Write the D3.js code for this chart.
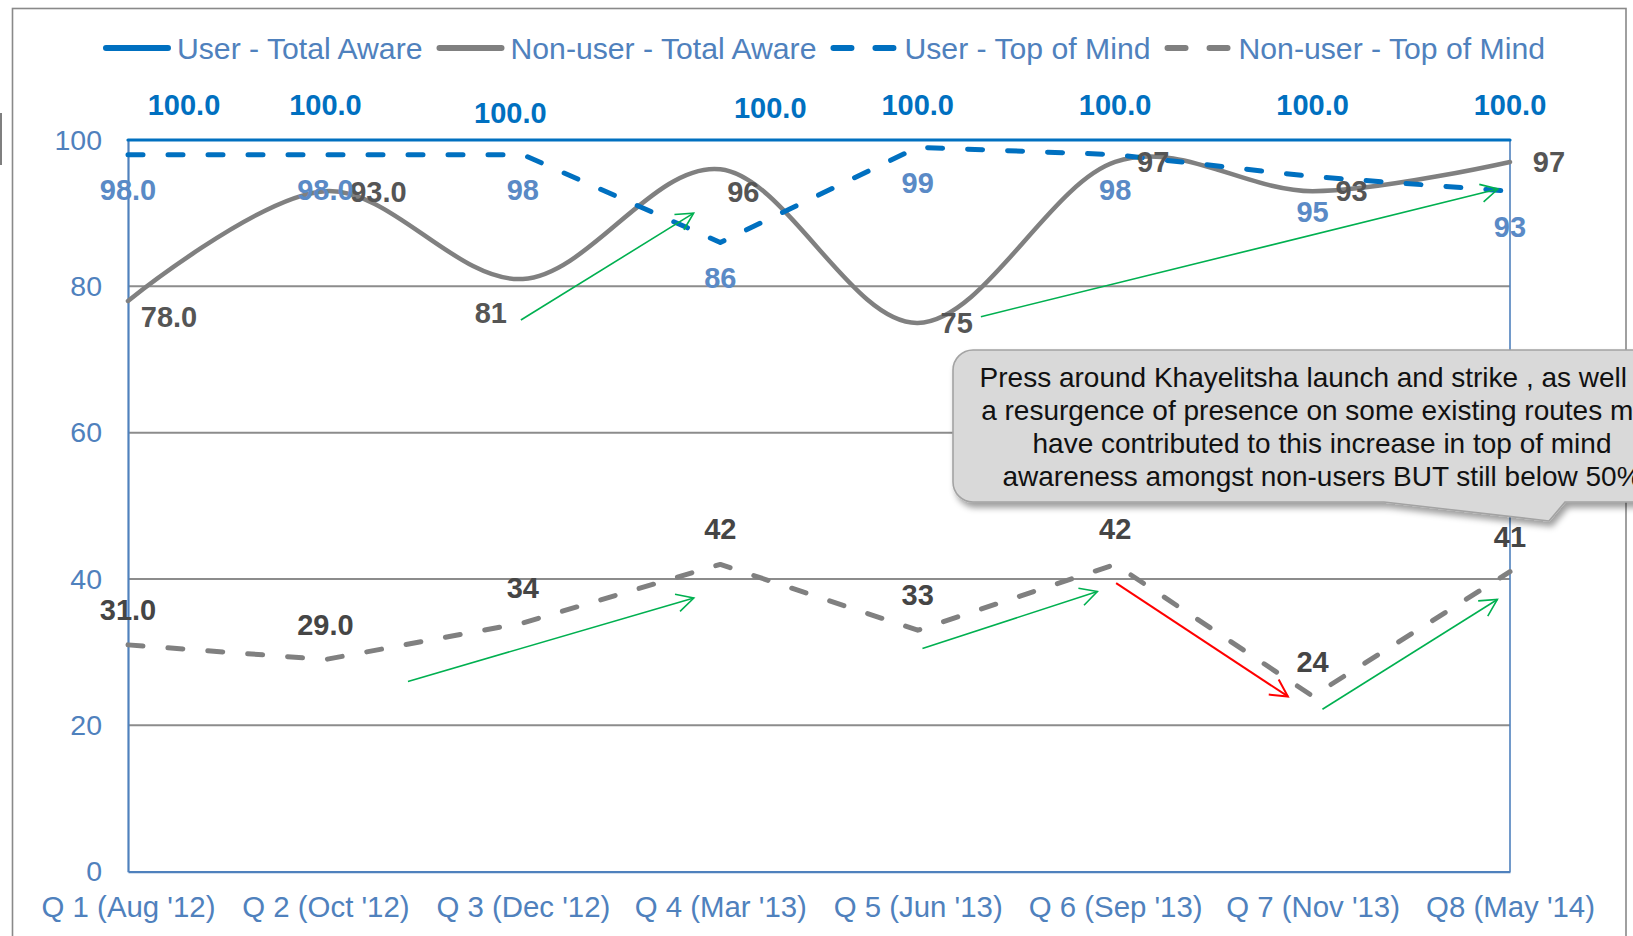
<!DOCTYPE html>
<html>
<head>
<meta charset="utf-8">
<script src="https://cdn.jsdelivr.net/npm/d3@7"></script>
<style>
  html, body { margin: 0; padding: 0; background: #ffffff; }
  svg { display: block; font-family: "Liberation Sans", Arial, Helvetica, sans-serif; }
</style>
</head>
<body>
<svg id="chart" width="1633" height="936"></svg>
<script>
// ---- data ----
const categories = ["Q 1 (Aug '12)", "Q 2 (Oct '12)", "Q 3 (Dec '12)", "Q 4 (Mar '13)",
                    "Q 5 (Jun '13)", "Q 6 (Sep '13)", "Q 7 (Nov '13)", "Q8 (May '14)"];
const userTotalAware    = [100, 100, 100, 100, 100, 100, 100, 100];
const nonUserTotalAware = [78, 93, 81, 96, 75, 97, 93, 97];
const userTopOfMind     = [98, 98, 98, 86, 99, 98, 95, 93];
const nonUserTopOfMind  = [31, 29, 34, 42, 33, 42, 24, 41];
const yTicks = [0, 20, 40, 60, 80, 100];
const seriesNames = ["User - Total Aware", "Non-user - Total Aware", "User - Top of Mind", "Non-user - Top of Mind"];
// decimals shown on each point's label
const decimalsUserTA  = [1, 1, 1, 1, 1, 1, 1, 1];
const decimalsOther   = [1, 1, 0, 0, 0, 0, 0, 0];
const noteLines = [
  "Press around Khayelitsha launch and strike , as well as",
  "a resurgence of presence on some existing routes may",
  "have contributed to this increase in top of mind",
  "awareness amongst non-users BUT still below 50%"
];
// trend arrows, in chart units: [quarter index, percent]
const trendArrows = [
  { from: [1.99, 75.4], to: [2.865, 90.0], kind: "up" },
  { from: [4.32, 75.85], to: [6.939, 93.3], kind: "up" },
  { from: [1.418, 26.0], to: [2.866, 37.4], kind: "up" },
  { from: [4.024, 30.5], to: [4.91, 38.3], kind: "up" },
  { from: [5.005, 39.45], to: [5.875, 23.95], kind: "down" },
  { from: [6.05, 22.2], to: [6.936, 37.2], kind: "up" }
];

// ---- layout ----
const plot = { left: 128, right: 1510, top: 140, bottom: 871.7 };
const svg = d3.select("#chart");

const x = d3.scaleLinear().domain([0, categories.length - 1]).range([plot.left, plot.right]);
const y = d3.scaleLinear().domain([0, 100]).range([plot.bottom, plot.top]);

const BLUE = "#0070c0", AXIS_BLUE = "#4f81bd", GRAY = "#808080";

const defs = svg.append("defs");
const shadow = defs.append("filter").attr("id", "noteShadow")
  .attr("x", "-10%").attr("y", "-20%").attr("width", "130%").attr("height", "150%");
shadow.append("feDropShadow").attr("dx", 3).attr("dy", 5).attr("stdDeviation", 3)
  .attr("flood-color", "#000").attr("flood-opacity", 0.38);

[["up", "#00b050"], ["down", "#ff0000"]].forEach(([k, c]) => {
  defs.append("marker").attr("id", "head-" + k)
    .attr("viewBox", "-22 -12 26 24").attr("markerUnits", "userSpaceOnUse")
    .attr("markerWidth", 26).attr("markerHeight", 24)
    .attr("refX", 0).attr("refY", 0).attr("orient", "auto")
    .append("path").attr("d", "M-17,-9 L0,0 L-17,9")
    .attr("fill", "none").attr("stroke", c).attr("stroke-width", k === "down" ? 2 : 1.6);
});

// outer chart frame
svg.append("rect").attr("x", 12.5).attr("y", 8.5).attr("width", 1613.5).attr("height", 1000)
  .attr("fill", "none").attr("stroke", "#898989").attr("stroke-width", 1.6);
svg.append("line").attr("x1", 1).attr("x2", 1).attr("y1", 113).attr("y2", 165)
  .attr("stroke", "#7f7f7f").attr("stroke-width", 2);

// gridlines
svg.append("g").selectAll("line").data(yTicks.filter(t => t > 0 && t < 100)).join("line")
  .attr("x1", plot.left).attr("x2", plot.right)
  .attr("y1", d => y(d)).attr("y2", d => y(d))
  .attr("stroke", "#8c8c8c").attr("stroke-width", 2);

// axes
const yAxis = svg.append("g").attr("transform", `translate(${plot.left},0)`)
  .call(d3.axisLeft(y).tickValues(yTicks).tickSize(0).tickSizeOuter(0).tickPadding(26));
const xAxis = svg.append("g").attr("transform", `translate(0,${plot.bottom})`)
  .call(d3.axisBottom(x).tickValues(d3.range(categories.length))
    .tickFormat(i => categories[i]).tickSize(0).tickSizeOuter(0).tickPadding(24));
[[yAxis, 28.5], [xAxis, 29.4]].forEach(([g, fs]) => {
  g.select(".domain").attr("stroke", AXIS_BLUE).attr("stroke-width", 2.2);
  g.selectAll("text").attr("fill", AXIS_BLUE).attr("font-size", fs)
    .attr("font-family", "'Liberation Sans', Arial, sans-serif");
});
svg.append("line").attr("x1", plot.right).attr("x2", plot.right)
  .attr("y1", plot.top).attr("y2", plot.bottom)
  .attr("stroke", AXIS_BLUE).attr("stroke-width", 1.6);

// series
const idx = d3.range(categories.length);
const straight = d3.line().x(i => x(i)).curve(d3.curveLinear);
const smooth = d3.line().x(i => x(i)).curve(d3.curveCardinal.tension(0));

const series = [
  { vals: userTotalAware, gen: straight, color: BLUE, width: 3.2, dash: null },
  { vals: nonUserTotalAware, gen: smooth, color: GRAY, width: 4.5, dash: null },
  { vals: userTopOfMind, gen: straight, color: BLUE, width: 5, dash: "15,25" },
  { vals: nonUserTopOfMind, gen: straight, color: GRAY, width: 5, dash: "15,25" }
];
series.forEach(s => {
  svg.append("path")
    .attr("d", s.gen.y(i => y(s.vals[i]))(idx))
    .attr("fill", "none").attr("stroke", s.color).attr("stroke-width", s.width)
    .attr("stroke-linecap", "round").attr("stroke-linejoin", "round")
    .attr("stroke-dasharray", s.dash);
});

// trend arrows
svg.append("g").selectAll("line").data(trendArrows).join("line")
  .attr("x1", d => x(d.from[0])).attr("y1", d => y(d.from[1]))
  .attr("x2", d => x(d.to[0])).attr("y2", d => y(d.to[1]))
  .attr("stroke", d => d.kind === "up" ? "#00b050" : "#ff0000")
  .attr("stroke-width", d => d.kind === "up" ? 1.6 : 2)
  .attr("marker-end", d => `url(#head-${d.kind})`);

// data labels
const labelSets = [
  { vals: userTotalAware, dec: decimalsUserTA, color: BLUE,
    dx: [56, 0, -12.5, 50, 0, 0, 0, 0], dy: [-25, -25, -17, -22, -25, -25, -25, -25] },
  { vals: nonUserTotalAware, dec: decimalsOther, color: "#555555",
    dx: [41, 53, -32, 23, 39, 38, 39, 39], dy: [25.7, 10.5, 44, 33, 10, 10.5, 10, 10] },
  { vals: userTopOfMind, dec: decimalsOther, color: "#5a8ac6",
    dx: [0, 0, 0, 0, 0, 0, 0, 0], dy: [45.5, 45.5, 45.5, 46, 46, 45.5, 45, 45.5] },
  { vals: nonUserTopOfMind, dec: decimalsOther, color: "#454545",
    dx: [0, 0, 0, 0, 0, 0, 0, 0], dy: [-25, -25, -25, -25, -25, -25, -24.5, -25] }
];
labelSets.forEach(ls => {
  svg.append("g").selectAll("text").data(idx).join("text")
    .attr("x", i => x(i) + ls.dx[i]).attr("y", i => y(ls.vals[i]) + ls.dy[i])
    .attr("text-anchor", "middle").attr("font-size", 29).attr("font-weight", "bold")
    .attr("fill", ls.color)
    .text(i => ls.vals[i].toFixed(ls.dec[i]));
});

// callout note
const nb = { x0: 953, y0: 350, x1: 1691, y1: 502, r: 20 };
const tail = { baseR: 1565, tipX: 1549, tipY: 521, baseL: 1384 };
const notePath = `M${nb.x0 + nb.r},${nb.y0} H${nb.x1 - nb.r} A${nb.r},${nb.r} 0 0 1 ${nb.x1},${nb.y0 + nb.r}
  V${nb.y1 - nb.r} A${nb.r},${nb.r} 0 0 1 ${nb.x1 - nb.r},${nb.y1} H${tail.baseR} L${tail.tipX},${tail.tipY}
  L${tail.baseL},${nb.y1} H${nb.x0 + nb.r} A${nb.r},${nb.r} 0 0 1 ${nb.x0},${nb.y1 - nb.r}
  V${nb.y0 + nb.r} A${nb.r},${nb.r} 0 0 1 ${nb.x0 + nb.r},${nb.y0} Z`;
svg.append("path").attr("d", notePath).attr("fill", "#d9d9d9")
  .attr("stroke", "#a3a3a3").attr("stroke-width", 1.6).attr("filter", "url(#noteShadow)");
svg.append("g").selectAll("text").data(noteLines).join("text")
  .attr("x", (nb.x0 + nb.x1) / 2).attr("y", (d, i) => 387 + i * 33)
  .attr("text-anchor", "middle").attr("font-size", 28).attr("fill", "#111111")
  .text(d => d);

// legend
const legend = svg.append("g");
const legendStyles = [
  { color: BLUE, dash: null }, { color: GRAY, dash: null },
  { color: BLUE, dash: "18,24" }, { color: GRAY, dash: "18,24" }
];
const swatchW = 68, textGap = 74, itemGap = 14;
const items = seriesNames.map((name, i) => {
  const g = legend.append("g");
  const t = g.append("text").attr("x", textGap).attr("y", 58.5)
    .attr("font-size", 30.2).attr("fill", AXIS_BLUE).text(name);
  const tw = t.node().getComputedTextLength();
  g.append("line").attr("x1", 3).attr("x2", swatchW - 3).attr("y1", 48).attr("y2", 48)
    .attr("stroke", legendStyles[i].color).attr("stroke-width", 6)
    .attr("stroke-linecap", "round").attr("stroke-dasharray", legendStyles[i].dash);
  return { g, w: textGap + tw };
});
const totalW = d3.sum(items, d => d.w) + itemGap * (items.length - 1);
let cx = 824 - totalW / 2;
items.forEach(it => { it.g.attr("transform", `translate(${cx},0)`); cx += it.w + itemGap; });
</script>
</body>
</html>
